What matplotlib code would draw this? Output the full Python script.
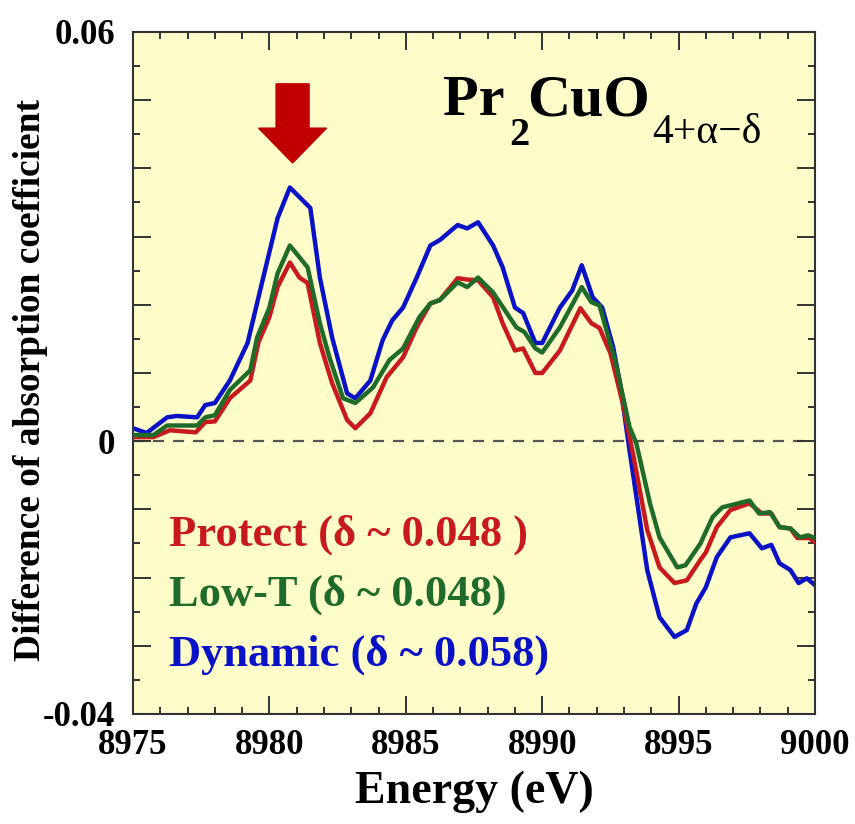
import matplotlib
matplotlib.use("Agg")
import matplotlib.pyplot as plt
from matplotlib.ticker import MultipleLocator, FuncFormatter
from matplotlib.patches import FancyArrow

# ---------------- data ----------------
blue_x = [8975.0, 8975.5, 8976.25, 8976.6, 8977.35, 8977.65, 8978.0, 8978.55, 8979.2, 8979.6,
          8980.3, 8980.75, 8981.5, 8981.85, 8982.3, 8982.85, 8983.15, 8983.7, 8984.15, 8984.5,
          8984.9, 8985.4, 8985.9, 8986.25, 8986.9, 8987.25, 8987.65, 8988.2, 8988.55, 8989.0,
          8989.3, 8989.75, 8990.0, 8990.65, 8991.1, 8991.45, 8991.85, 8992.2, 8992.6, 8992.85,
          8993.2, 8993.85, 8994.3, 8994.85, 8995.3, 8995.65, 8996.0, 8996.4, 8996.9, 8997.6,
          8998.05, 8998.4, 8998.7, 8999.1, 8999.4, 8999.7, 9000.0]
blue_y = [0.0019, 0.0012, 0.0035, 0.0037, 0.0035, 0.0053, 0.0056, 0.0089, 0.0144, 0.0211,
          0.0327, 0.0372, 0.0342, 0.0240, 0.0152, 0.0070, 0.0063, 0.0089, 0.0148, 0.0177,
          0.0196, 0.0240, 0.0287, 0.0295, 0.0317, 0.0312, 0.0321, 0.0287, 0.0255, 0.0196,
          0.0188, 0.0144, 0.0144, 0.0196, 0.0221, 0.0258, 0.0211, 0.0196, 0.0138, 0.0085,
          -0.0013, -0.0189, -0.0258, -0.0287, -0.0277, -0.0238, -0.0214, -0.0170, -0.0141, -0.0135,
          -0.0157, -0.0152, -0.0179, -0.0189, -0.0208, -0.0201, -0.0211]

green_x = [8975.0, 8975.75, 8976.25, 8977.35, 8977.65, 8978.0, 8978.55, 8979.3, 8979.55, 8980.0,
           8980.3, 8980.75, 8981.4, 8981.85, 8982.2, 8982.7, 8983.15, 8983.8, 8984.4, 8984.9,
           8985.5, 8985.9, 8986.25, 8986.9, 8987.25, 8987.65, 8988.2, 8988.7, 8989.05, 8989.35,
           8989.75, 8990.0, 8990.65, 8991.45, 8991.8, 8992.1, 8992.7, 8993.2, 8993.45, 8993.95,
           8994.3, 8994.95, 8995.25, 8995.8, 8996.25, 8996.6, 8997.6, 8997.95, 8998.35, 8998.7,
           8999.1, 8999.45, 8999.75, 9000.0]
green_y = [0.0009, 0.0009, 0.0023, 0.0023, 0.0035, 0.0038, 0.0075, 0.0104, 0.0152, 0.0196,
           0.0246, 0.0287, 0.0255, 0.0173, 0.0123, 0.0063, 0.0056, 0.0079, 0.0119, 0.0136,
           0.0182, 0.0202, 0.0207, 0.0233, 0.0226, 0.0240, 0.0218, 0.0188, 0.0167, 0.0160,
           0.0136, 0.0130, 0.0167, 0.0226, 0.0204, 0.0199, 0.0114, 0.0021, -0.0003, -0.0091,
           -0.0141, -0.0185, -0.0182, -0.0150, -0.0111, -0.0097, -0.0087, -0.0106, -0.0104, -0.0126,
           -0.0128, -0.0141, -0.0138, -0.0142]

red_x = [8975.0, 8975.75, 8976.35, 8977.3, 8977.65, 8978.0, 8978.55, 8979.3, 8979.6, 8980.0,
         8980.3, 8980.75, 8981.1, 8981.4, 8981.85, 8982.3, 8982.85, 8983.15, 8983.7, 8984.3,
         8984.9, 8985.4, 8985.9, 8986.25, 8986.9, 8987.25, 8987.65, 8988.2, 8988.55, 8989.0,
         8989.3, 8989.75, 8990.0, 8990.65, 8991.4, 8991.8, 8992.1, 8992.5, 8992.95, 8993.35,
         8993.85, 8994.3, 8994.85, 8995.3, 8995.8, 8996.0, 8996.4, 8996.9, 8997.6, 8998.05,
         8998.4, 8998.7, 8999.1, 8999.35, 8999.8, 9000.0]
red_y = [0.0006, 0.0006, 0.0016, 0.0013, 0.0028, 0.0029, 0.0063, 0.0089, 0.0145, 0.0182,
         0.0226, 0.0262, 0.0240, 0.0232, 0.0144, 0.0085, 0.0031, 0.0019, 0.0041, 0.0094,
         0.0123, 0.0167, 0.0202, 0.0207, 0.0239, 0.0237, 0.0236, 0.0211, 0.0173, 0.0133,
         0.0136, 0.0100, 0.0100, 0.0133, 0.0195, 0.0173, 0.0166, 0.0129, 0.0056, -0.0023,
         -0.0130, -0.0185, -0.0208, -0.0204, -0.0174, -0.0163, -0.0126, -0.0101, -0.0091, -0.0106,
         -0.0106, -0.0126, -0.0128, -0.0142, -0.0142, -0.0148]

series_labels = ["Protect (\u03b4 ~ 0.048 )", "Low-T (\u03b4 ~ 0.048)", "Dynamic (\u03b4 ~ 0.058)"]
series_colors = ["#C8191E", "#1E6B2A", "#0A12C8"]

y_labeled = [0.06, 0.0, -0.04]
y_label_text = {0.06: "0.06", 0.0: "0", -0.04: "-0.04"}

xlim = (8975, 9000)
ylim = (-0.04, 0.06)

arrow_x = 8980.85
arrow_y_top = 0.0524
arrow_y_tip = 0.0408

# ---------------- figure ----------------
plt.rcParams['font.family'] = ['Liberation Serif', 'DejaVu Serif']
plt.rcParams['font.weight'] = 'bold'
plt.rcParams['axes.unicode_minus'] = False

fig = plt.figure(figsize=(8.55, 8.24), dpi=100)
ax = fig.add_axes([133/855, 1-714/824, 682/855, 682/824])
ax.set_facecolor("#FEFCC9")

ax.axhline(0, color="#555555", lw=1.6, ls=(0, (5, 4)), zorder=1)

ax.plot(red_x, red_y, color=series_colors[0], lw=3.2, zorder=3)
ax.plot(green_x, green_y, color=series_colors[1], lw=3.2, zorder=4)
ax.plot(blue_x, blue_y, color=series_colors[2], lw=3.2, zorder=2)

ax.set_xlim(*xlim)
ax.set_ylim(*ylim)

ax.xaxis.set_major_locator(MultipleLocator(5))
ax.xaxis.set_minor_locator(MultipleLocator(1))
ax.yaxis.set_major_locator(MultipleLocator(0.01))
ax.yaxis.set_minor_locator(MultipleLocator(0.005))

def yfmt(v, pos):
    for k in y_labeled:
        if abs(v - k) < 1e-9:
            return y_label_text[k]
    return ""
ax.yaxis.set_major_formatter(FuncFormatter(yfmt))
ax.xaxis.set_major_formatter(FuncFormatter(lambda v, p: f"{int(round(v))}"))

ax.tick_params(which='both', direction='in', top=True, right=True, color="#333333", width=1.4)
ax.tick_params(which='major', length=13)
ax.tick_params(which='minor', length=5)
ax.tick_params(axis='x', which='major', labelsize=25, pad=11)
ax.tick_params(axis='y', which='major', labelsize=25, pad=13)
for s in ax.spines.values():
    s.set_linewidth(1.5)
    s.set_color("#333333")

ax.set_xlabel("Energy (eV)", fontsize=33, fontweight='bold', labelpad=6)
ax.set_ylabel("Difference of absorption coefficient", fontsize=27, fontweight='bold')
ax.yaxis.set_label_coords(-0.124, 0.49)

# legend-like text
leg_y = [0.247, 0.159, 0.071]
for lab, col, yy in zip(series_labels, series_colors, leg_y):
    ax.text(0.053, yy, lab, transform=ax.transAxes, color=col, fontsize=32,
            fontweight='bold', va='baseline', ha='left')

# formula
ax.text(0.454, 0.878, "Pr", transform=ax.transAxes, fontsize=42, fontweight='bold', va='baseline')
ax.text(0.551, 0.834, "2", transform=ax.transAxes, fontsize=29, fontweight='bold', va='baseline')
ax.text(0.578, 0.878, "CuO", transform=ax.transAxes, fontsize=43, fontweight='bold', va='baseline')
ax.text(0.762, 0.837, "4+\u03b1\u2212\u03b4", transform=ax.transAxes, fontsize=30,
        fontweight='normal', va='baseline')

# arrow
ax.add_patch(FancyArrow(arrow_x, arrow_y_top, 0, arrow_y_tip - arrow_y_top, width=1.21,
                        head_width=2.49, head_length=0.0051, length_includes_head=True,
                        color="#C00000", zorder=5))

fig.savefig("out.png", dpi=100)
